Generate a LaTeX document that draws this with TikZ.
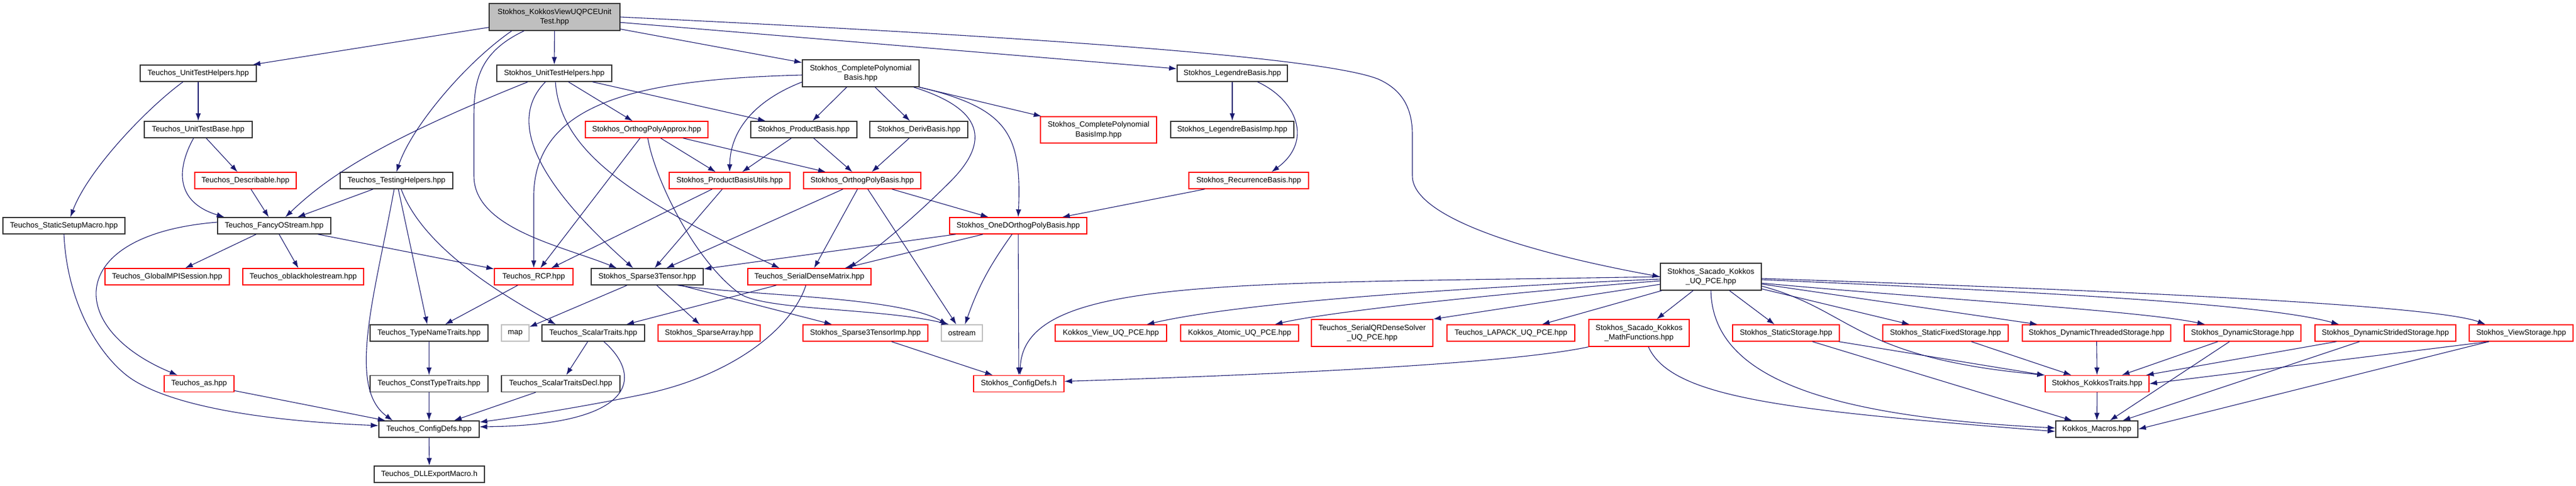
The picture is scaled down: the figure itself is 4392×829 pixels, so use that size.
\documentclass[tikz,border=0pt]{standalone}
\usepackage{fontspec}
\setmainfont{Liberation Sans}
\usepackage{xcolor}
\usepackage{tikz}
\usetikzlibrary{shapes,arrows.meta}
\usetikzlibrary{positioning}

\definecolor{edgeblue}{HTML}{191970}
\definecolor{boxgray}{HTML}{BFBFBF}

\begin{document}
\begin{tikzpicture}[x=1pt, y=1pt,
			file/.style={
					rectangle,
					draw=black!80,
					line width=1.4pt,
					minimum height=28pt,
					inner sep=0pt,
					align=center,
					font=\fontsize{13}{16.5}\selectfont
				},
			trunc/.style={file, draw=red},
			sys/.style={file, draw=boxgray},
			line/.style={draw=edgeblue, line width=1.1pt, -{Latex[length=13pt, width=9pt]}}
		]
		\fill [white] (0,0) rectangle (4392,-829);
		\useasboundingbox (0,0) rectangle (4392,-829);
		% Place nodes
		\node [file, fill=boxgray, minimum width=223pt, minimum height=46pt] (root) at (945.5,-29) {Stokhos\_KokkosViewUQPCEUnit\\Test.hpp};
		\node [file, minimum width=198pt] (tuth) at (338,-125) {Teuchos\_UnitTestHelpers.hpp};
		\node [file, minimum width=196pt] (suth) at (945,-125) {Stokhos\_UnitTestHelpers.hpp};
		\node [file, minimum width=199pt, minimum height=46pt] (cpb) at (1467.5,-125) {Stokhos\_CompletePolynomial\\Basis.hpp};
		\node [file, minimum width=188pt] (leg) at (2101,-125) {Stokhos\_LegendreBasis.hpp};
		\node [file, minimum width=184pt] (tutb) at (338,-221) {Teuchos\_UnitTestBase.hpp};
		\node [trunc, minimum width=209pt] (opa) at (1102.5,-221) {Stokhos\_OrthogPolyApprox.hpp};
		\node [file, minimum width=181pt] (pb) at (1370.5,-221) {Stokhos\_ProductBasis.hpp};
		\node [file, minimum width=167pt] (deriv) at (1566.5,-221) {Stokhos\_DerivBasis.hpp};
		\node [trunc, minimum width=198pt, minimum height=45pt] (cpbimp) at (1873,-221.5) {Stokhos\_CompletePolynomial\\BasisImp.hpp};
		\node [file, minimum width=210pt] (legimp) at (2101,-221) {Stokhos\_LegendreBasisImp.hpp};
		\node [trunc, minimum width=173pt] (desc) at (418.5,-308) {Teuchos\_Describable.hpp};
		\node [file, minimum width=192pt] (tth) at (676,-308) {Teuchos\_TestingHelpers.hpp};
		\node [trunc, minimum width=206pt] (pbu) at (1244,-308) {Stokhos\_ProductBasisUtils.hpp};
		\node [trunc, minimum width=200pt] (opb) at (1470,-308) {Stokhos\_OrthogPolyBasis.hpp};
		\node [trunc, minimum width=204pt] (rec) at (2129,-308) {Stokhos\_RecurrenceBasis.hpp};
		\node [file, minimum width=208pt] (ssm) at (109,-385) {Teuchos\_StaticSetupMacro.hpp};
		\node [file, minimum width=193pt] (fos) at (467.5,-385) {Teuchos\_FancyOStream.hpp};
		\node [trunc, minimum width=234pt] (oned) at (1736,-385) {Stokhos\_OneDOrthogPolyBasis.hpp};
		\node [trunc, minimum width=212pt] (gmpi) at (285,-472) {Teuchos\_GlobalMPISession.hpp};
		\node [trunc, minimum width=206pt] (obh) at (517,-472) {Teuchos\_oblackholestream.hpp};
		\node [trunc, minimum width=134pt] (rcp) at (910,-472) {Teuchos\_RCP.hpp};
		\node [file, minimum width=191pt] (s3t) at (1103.5,-472) {Stokhos\_Sparse3Tensor.hpp};
		\node [trunc, minimum width=210pt] (sdm) at (1380,-472) {Teuchos\_SerialDenseMatrix.hpp};
		\node [file, minimum width=172pt, minimum height=46pt] (sk) at (2917,-472) {Stokhos\_Sacado\_Kokkos\\\_UQ\_PCE.hpp};
		\node [file, minimum width=201pt] (tnt) at (731.5,-568) {Teuchos\_TypeNameTraits.hpp};
		\node [sys, minimum width=47pt] (map) at (878.5,-568) {map};
		\node [file, minimum width=175pt] (st) at (1011.5,-568) {Teuchos\_ScalarTraits.hpp};
		\node [trunc, minimum width=174pt] (sa) at (1209,-568) {Stokhos\_SparseArray.hpp};
		\node [trunc, minimum width=213pt] (s3ti) at (1475.5,-568) {Stokhos\_Sparse3TensorImp.hpp};
		\node [sys, minimum width=70pt] (ostr) at (1640,-568) {ostream};
		\node [trunc, minimum width=190pt] (kview) at (1894,-568) {Kokkos\_View\_UQ\_PCE.hpp};
		\node [trunc, minimum width=201pt] (katom) at (2113.5,-568) {Kokkos\_Atomic\_UQ\_PCE.hpp};
		\node [trunc, minimum width=207pt, minimum height=46pt] (sqr) at (2339.5,-568) {Teuchos\_SerialQRDenseSolver\\\_UQ\_PCE.hpp};
		\node [trunc, minimum width=218pt] (lapack) at (2576,-568) {Teuchos\_LAPACK\_UQ\_PCE.hpp};
		\node [trunc, minimum width=171pt, minimum height=46pt] (mathf) at (2794.5,-568) {Stokhos\_Sacado\_Kokkos\\\_MathFunctions.hpp};
		\node [trunc, minimum width=182pt] (sstat) at (3045,-568) {Stokhos\_StaticStorage.hpp};
		\node [trunc, minimum width=214pt] (sfix) at (3317,-568) {Stokhos\_StaticFixedStorage.hpp};
		\node [trunc, minimum width=253pt] (sdthr) at (3574.5,-568) {Stokhos\_DynamicThreadedStorage.hpp};
		\node [trunc, minimum width=199pt] (sdyn) at (3823.5,-568) {Stokhos\_DynamicStorage.hpp};
		\node [trunc, minimum width=240pt] (sdstr) at (4067,-568) {Stokhos\_DynamicStridedStorage.hpp};
		\node [trunc, minimum width=177pt] (sview) at (4298.5,-568) {Stokhos\_ViewStorage.hpp};
		\node [trunc, minimum width=119pt] (as) at (339.5,-654.5) {Teuchos\_as.hpp};
		\node [file, minimum width=201pt] (ctt) at (731.5,-654.5) {Teuchos\_ConstTypeTraits.hpp};
		\node [file, minimum width=202pt] (std) at (956,-654.5) {Teuchos\_ScalarTraitsDecl.hpp};
		\node [trunc, minimum width=154pt] (scfg) at (1737,-654.5) {Stokhos\_ConfigDefs.h};
		\node [trunc, minimum width=177pt] (ktr) at (3575.5,-654.5) {Stokhos\_KokkosTraits.hpp};
		\node [file, minimum width=171pt] (tcfg) at (731.5,-732) {Teuchos\_ConfigDefs.hpp};
		\node [file, minimum width=140pt] (kmac) at (3575,-732) {Kokkos\_Macros.hpp};
		\node [file, minimum width=188pt] (dll) at (732,-809) {Teuchos\_DLLExportMacro.h};
		% Draw edges
		\path [line] (root) -- (tuth);
		\path [line] (root) -- (suth);
		\path [line] (root) -- (cpb);
		\path [line] (root) -- (leg);
		\path [line] (root.east) .. controls (1700,-60) and (2250,-95) .. (2350,-135) .. controls (2395,-155) and (2408,-190) .. (2408,-230) -- (2408,-300) .. controls (2408,-370) and (2600,-430) .. (sk.west);
		\path [line] ([xshift=-73pt]root.south) .. controls (790,-110) and (700,-220) .. (tth.north);
		\path [line] ([xshift=-52pt]root.south) .. controls (815,-90) and (808,-140) .. (808,-200) -- (808,-300) .. controls (808,-390) and (960,-420) .. ([xshift=-52pt]s3t.north);
		% Teuchos side
		\path [line] (tuth) -- (tutb);
		\path [line] ([xshift=-26pt]tuth.south) .. controls (250,-185) and (150,-290) .. ([xshift=11pt]ssm.north);
		\path [line] (tutb) -- (desc);
		\path [line] ([xshift=-8pt]tutb.south) .. controls (300,-290) and (300,-345) .. ([xshift=-85pt]fos.north);
		\path [line] (desc) -- (fos);
		\path [line] (tth) -- (fos);
		\path [line] ([xshift=-45pt]suth.south) .. controls (650,-240) and (560,-300) .. ([xshift=19pt]fos.north);
		\path [line] (fos) -- (gmpi);
		\path [line] (fos) -- (obh);
		\path [line] ([yshift=6pt]fos.west) .. controls (110,-400) and (110,-560) .. ([xshift=-37pt]as.north);
		\path [line] (fos) -- (rcp);
		\path [line] ([xshift=-4pt]tth.south) .. controls (640,-500) and (590,-660) .. ([xshift=-62pt]tcfg.north);
		\path [line] (tth) -- (tnt);
		\path [line] ([xshift=8pt]tth.south) .. controls (720,-420) and (850,-500) .. ([xshift=-64pt]st.north);
		\path [line] (ssm.south) .. controls (115,-530) and (180,-620) .. (230,-650) .. controls (330,-710) and (550,-722) .. ([yshift=6pt]tcfg.west);
		\path [line] (as) -- (tcfg);
		\path [line] (rcp) -- (tnt);
		\path [line] (tnt) -- (ctt);
		\path [line] (ctt) -- (tcfg);
		\path [line] (tcfg) -- (dll);
		\path [line] (st) -- (std);
		\path [line] ([xshift=18pt]st.south) .. controls (1095,-640) and (1090,-725) .. ([yshift=4pt]tcfg.east);
		\path [line] (std) -- (tcfg);
		\path [line] ([xshift=-6pt]sdm.south) .. controls (1350,-560) and (1250,-640) .. (1100,-672) .. controls (1000,-693) and (880,-712) .. ([yshift=12pt]tcfg.east);
		% Stokhos side
		\path [line] ([xshift=-15pt]suth.south) .. controls (880,-190) and (880,-280) .. ([xshift=-24pt]s3t.north);
		\path [line] ([xshift=2pt]suth.south) .. controls (955,-260) and (1080,-340) .. ([xshift=-51pt]sdm.north);
		\path [line] (suth) -- (opa);
		\path [line] (suth) -- (pb);
		\path [line] ([yshift=-3pt]cpb.west) .. controls (1100,-135) and (915,-170) .. (910,-330) -- (rcp);
		\path [line] (opa) -- (rcp);
		\path [line] ([xshift=2pt]opa.south) .. controls (1115,-300) and (1180,-440) .. (1260,-500) .. controls (1300,-530) and (1500,-525) .. ([xshift=-22pt]ostr.north);
		\path [line] (opa) -- (pbu);
		\path [line] (opa) -- (opb);
		\path [line] (pb) -- (pbu);
		\path [line] (pb) -- (opb);
		\path [line] (cpb) -- (pb);
		\path [line] ([yshift=-15pt]cpb.west) .. controls (1290,-170) and (1245,-220) .. (pbu.north);
		\path [line] (cpb) -- (deriv);
		\path [line] (cpb) -- (cpbimp);
		\path [line] (cpb.south east) .. controls (1720,-185) and (1742,-230) .. (oned.north);
		\path [line] ([xshift=-10pt]cpb.south east) .. controls (1690,-190) and (1680,-250) .. (1620,-310) .. controls (1560,-370) and (1500,-420) .. ([xshift=67pt]sdm.north);
		\path [line] (deriv) -- (opb);
		\path [line] (leg) -- (legimp);
		\path [line] ([xshift=43pt]leg.south) .. controls (2210,-170) and (2240,-240) .. ([xshift=39pt]rec.north);
		\path [line] (rec) -- (oned);
		\path [line] (opb) -- (s3t);
		\path [line] (opb) -- (sdm);
		\path [line] (opb) -- (ostr);
		\path [line] (opb) -- (oned);
		\path [line] (pbu) -- (rcp);
		\path [line] (pbu) -- (s3t);
		\path [line] (oned) -- (s3t);
		\path [line] (oned) -- (sdm);
		\path [line] (oned) to[bend right=8] (ostr);
		\path [line] (oned) -- (scfg);
		\path [line] (s3t) -- (map);
		\path [line] (s3t) -- (sa);
		\path [line] (s3t) -- (s3ti);
		\path [line] ([xshift=52pt]s3t.south) .. controls (1280,-505) and (1530,-505) .. ([xshift=-25pt]ostr.north);
		\path [line] (sdm) -- (st);
		\path [line] (s3ti) -- (scfg);
		% Sacado side
		\path [line] (sk.west) .. controls (2100,-485) and (1745,-470) .. ([xshift=2pt]scfg.north);
		\path [line] ([yshift=-4pt]sk.west) .. controls (2400,-495) and (2100,-520) .. ([xshift=61pt]kview.north);
		\path [line] ([yshift=-7pt]sk.west) .. controls (2500,-505) and (2250,-535) .. ([xshift=60pt]katom.north);
		\path [line] ([yshift=-13pt]sk.west) -- (sqr.north east);
		\path [line] ([xshift=3pt]sk.south west) -- ([xshift=53pt]lapack.north);
		\path [line] (sk) -- (mathf);
		\path [line] (sk.south) .. controls (2920,-640) and (3100,-710) .. ([yshift=2pt]kmac.west);
		\path [line] (mathf.south west) .. controls (2600,-615) and (2300,-635) .. ([yshift=4pt]scfg.east);
		\path [line] ([xshift=16pt]mathf.south) .. controls (2850,-680) and (3050,-700) .. ([yshift=-4pt]kmac.west);
		\path [line] (sk) -- (sstat);
		\path [line] (sk) -- (sfix);
		\path [line] (sk) -- (sdthr);
		\path [line] ([yshift=-11pt]sk.east) .. controls (3300,-510) and (3650,-530) .. ([xshift=-64pt]sdyn.north);
		\path [line] ([yshift=-5pt]sk.east) .. controls (3400,-495) and (3850,-515) .. ([xshift=-79pt]sdstr.north);
		\path [line] ([yshift=-3pt]sk.east) .. controls (3600,-495) and (4150,-520) .. ([xshift=-61pt]sview.north);
		\path [line] ([yshift=-16pt]sk.east) .. controls (3160,-530) and (3160,-610) .. (ktr.north west);
		\path [line] (sstat) -- (ktr);
		\path [line] ([xshift=45pt]sstat.south) -- ([xshift=-42pt]kmac.north);
		\path [line] (sfix) -- (ktr);
		\path [line] (sdthr) -- (ktr);
		\path [line] (sdyn) -- (ktr);
		\path [line] (sdyn) -- (kmac);
		\path [line] (sdstr) -- (ktr);
		\path [line] (sdstr) -- (kmac);
		\path [line] ([xshift=-55pt]sview.south) -- (ktr.east);
		\path [line] ([xshift=-55pt]sview.south) -- (kmac.east);
		\path [line] (ktr) -- (kmac);
	\end{tikzpicture}
\end{document}
